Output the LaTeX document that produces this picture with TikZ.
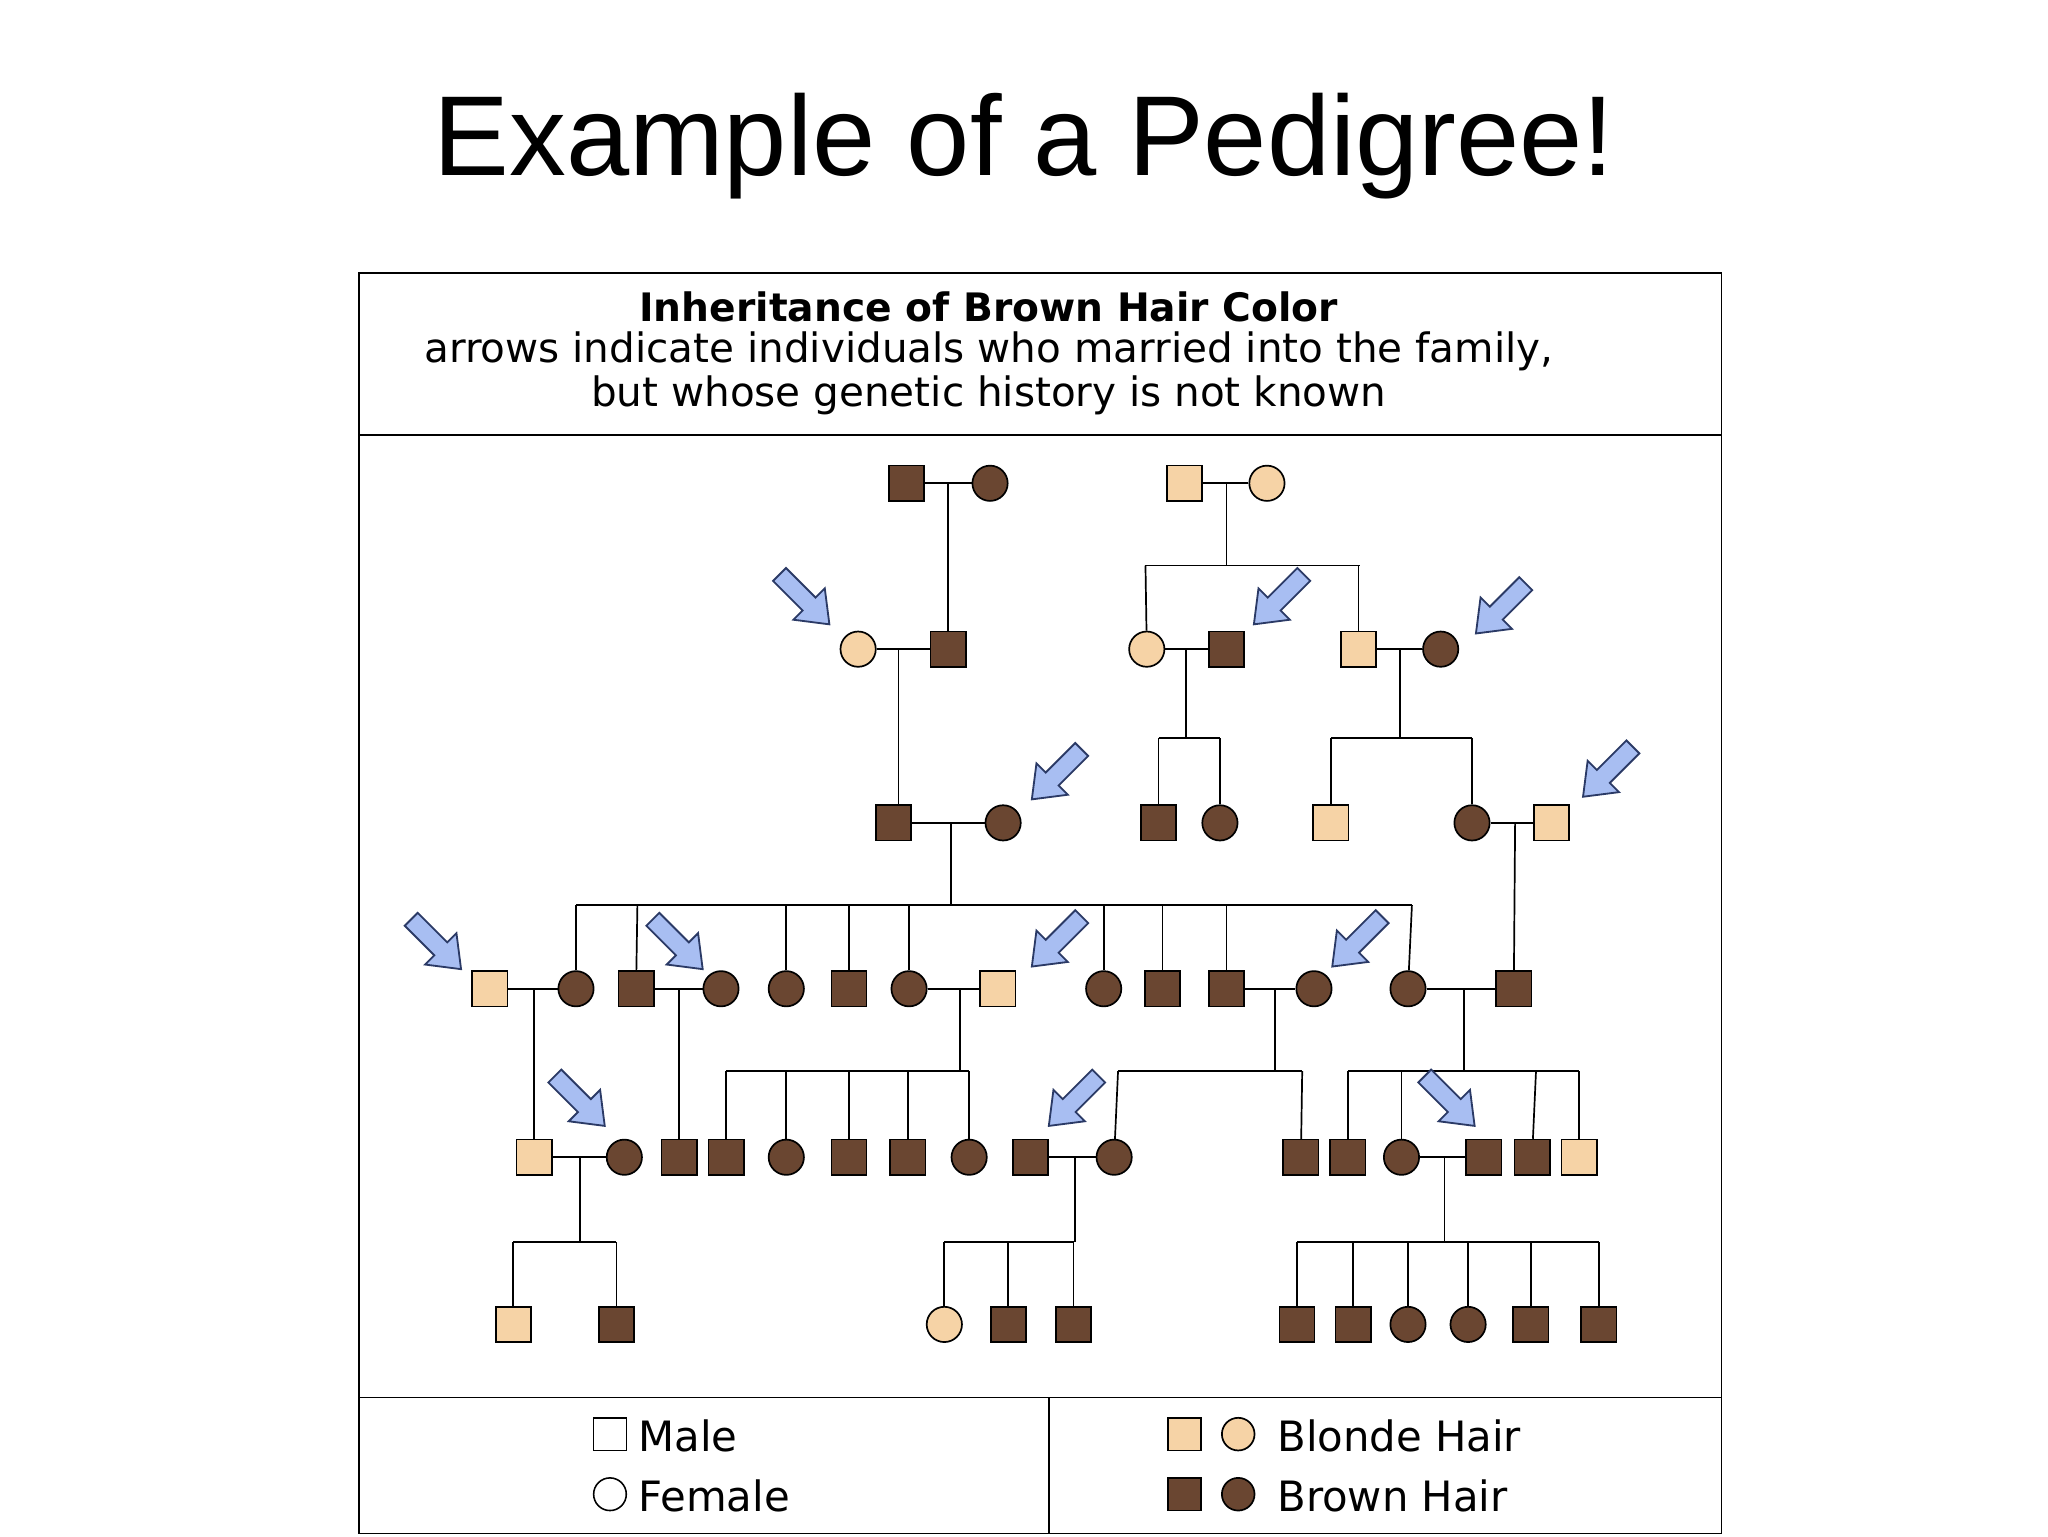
\documentclass[tikz,border=0pt]{standalone}
\usepackage{fontspec}
\setmainfont{Liberation Sans}
\newfontfamily\boxfont{DejaVu Sans}
\begin{document}
\begin{tikzpicture}[x=1pt,y=1pt,line width=1.3pt,
  sym/.style={draw=black,line width=1.3pt,minimum size=27pt,inner sep=0pt},
  msq/.style={sym,rectangle},
  fci/.style={sym,circle},
  br/.style={fill=brn}, bl/.style={fill=bln},
  barrow/.pic={\draw[fill=arr,draw=arrd,line width=1.4pt,line join=miter]
     (0,0)--(-22,17)--(-22,7)--(-54,7)--(-54,-7)--(-22,-7)--(-22,-17)--cycle;}]
\definecolor{brn}{HTML}{6A4631}
\definecolor{bln}{HTML}{F6D3A6}
\definecolor{arr}{HTML}{A8BEF2}
\definecolor{arrd}{HTML}{2B3A66}
\useasboundingbox (0,0) rectangle (1568,-1176);
\node (title) at (784,-112) {\fontsize{87}{96}\selectfont Example of a Pedigree!};
\draw[line width=1.2pt] (275,-209) rectangle (1318,-1174);
\draw[line width=1.2pt] (275,-333) -- (1318,-333);
\draw[line width=1.2pt] (275,-1070) -- (1318,-1070);
\draw[line width=1.2pt] (803,-1070) -- (803,-1174);
\node (h1) at (757,-235) {\boxfont\fontsize{30}{34}\selectfont\bfseries Inheritance of Brown Hair Color};
\node (h2) at (757,-269) {\boxfont\fontsize{31}{34}\selectfont arrows indicate individuals who married into the family,};
\node (h3) at (757,-303) {\boxfont\fontsize{31}{34}\selectfont but whose genetic history is not known};
% Gen I
\node[msq,br] (a1) at (694,-370) {}; \node[fci,br] (a2) at (758,-370) {};
\node[msq,bl] (b1) at (907,-370) {}; \node[fci,bl] (b2) at (970,-370) {};
\draw (a1)--(a2); \draw (b1)--(b2);
% Gen II
\node[fci,bl] (c1) at (657,-497) {}; \node[msq,br] (c2) at (726,-497) {};
\node[fci,bl] (d1) at (878,-497) {}; \node[msq,br] (d2) at (939,-497) {};
\node[msq,bl] (e1) at (1040,-497) {}; \node[fci,br] (e2) at (1103,-497) {};
\draw (c1)--(c2); \draw (d1)--(d2); \draw (e1)--(e2);
\draw (726,-370) -- (c2);
\draw (939,-370) -- (939,-433); \draw (877,-433) -- (1041,-433);
\draw (877,-433) -- (d1); \draw (1040,-433) -- (e1);
% Gen III
\node[msq,br] (f1) at (684,-630) {}; \node[fci,br] (f2) at (768,-630) {};
\node[msq,br] (g1) at (887,-630) {}; \node[fci,br] (g2) at (934,-630) {};
\node[msq,bl] (h1s) at (1019,-630) {}; \node[fci,br] (i1) at (1127,-630) {};
\node[msq,bl] (i2) at (1188,-630) {};
\draw (f1)--(f2); \draw (i1)--(i2);
\draw (688,-497) -- (688,-616);
\draw (908,-497) -- (908,-565); \draw (887,-565) -- (934,-565);
\draw (g1) -- (887,-565); \draw (g2) -- (934,-565);
\draw (1072,-497) -- (1072,-565); \draw (1019,-565) -- (1127,-565);
\draw (h1s) -- (1019,-565); \draw (i1) -- (1127,-565);
% Gen IV
\node[msq,bl] (j1) at (375,-757) {}; \node[fci,br] (j2) at (441,-757) {};
\node[msq,br] (k1) at (487,-757) {}; \node[fci,br] (k2) at (552,-757) {};
\node[fci,br] (l1) at (602,-757) {}; \node[msq,br] (l2) at (650,-757) {};
\node[fci,br] (m1) at (696,-757) {}; \node[msq,bl] (m2) at (764,-757) {};
\node[fci,br] (n1) at (845,-757) {}; \node[msq,br] (n2) at (890,-757) {};
\node[msq,br] (o1) at (939,-757) {}; \node[fci,br] (o2) at (1006,-757) {};
\node[fci,br] (p1) at (1078,-757) {}; \node[msq,br] (p2) at (1159,-757) {};
\draw (j1)--(j2); \draw (k1)--(k2); \draw (m1)--(m2); \draw (o1)--(o2); \draw (p1)--(p2);
\draw (728,-630) -- (728,-693); \draw (441,-693) -- (1081,-693);
\foreach \n/\x in {j2/441,k1/488,l1/602,l2/650,m1/696,n1/845,n2/890,o1/939,p1/1081}
  \draw (\n) -- (\x,-693);
\draw (1160,-630) -- (p2);
% Gen V
\node[msq,bl] (q1) at (409,-886) {}; \node[fci,br] (q2) at (478,-886) {};
\node[msq,br] (r1) at (520,-886) {};
\node[msq,br] (s1) at (556,-886) {}; \node[fci,br] (s2) at (602,-886) {};
\node[msq,br] (s3) at (650,-886) {}; \node[msq,br] (s4) at (695,-886) {};
\node[fci,br] (s5) at (742,-886) {};
\node[msq,br] (t1) at (789,-886) {}; \node[fci,br] (t2) at (853,-886) {};
\node[msq,br] (u1) at (996,-886) {};
\node[msq,br] (v1) at (1032,-886) {}; \node[fci,br] (v2) at (1073,-886) {};
\node[msq,br] (w1) at (1136,-886) {}; \node[msq,br] (v3) at (1173,-886) {};
\node[msq,bl] (v4) at (1209,-886) {};
\draw (q1)--(q2); \draw (t1)--(t2); \draw (v2)--(w1);
\draw (409,-757) -- (q1); \draw (520,-757) -- (r1);
\draw (735,-757) -- (735,-820); \draw (556,-820) -- (742,-820);
\foreach \n/\x in {s1/556,s2/602,s3/650,s4/695,s5/742} \draw (\n) -- (\x,-820);
\draw (976,-757) -- (976,-820); \draw (856,-820) -- (997,-820);
\draw (t2) -- (856,-820); \draw (u1) -- (997,-820);
\draw (1121,-757) -- (1121,-820); \draw (1032,-820) -- (1209,-820);
\foreach \n/\x in {v1/1032,v2/1073,v3/1176,v4/1209} \draw (\n) -- (\x,-820);
% Gen VI
\node[msq,bl] (x1) at (393,-1014) {}; \node[msq,br] (x2) at (472,-1014) {};
\node[fci,bl] (y1) at (723,-1014) {}; \node[msq,br] (y2) at (772,-1014) {};
\node[msq,br] (y3) at (822,-1014) {};
\node[msq,br] (z1) at (993,-1014) {}; \node[msq,br] (z2) at (1036,-1014) {};
\node[fci,br] (z3) at (1078,-1014) {}; \node[fci,br] (z4) at (1124,-1014) {};
\node[msq,br] (z5) at (1172,-1014) {}; \node[msq,br] (z6) at (1224,-1014) {};
\draw (444,-886) -- (444,-951); \draw (393,-951) -- (472,-951);
\draw (x1) -- (393,-951); \draw (x2) -- (472,-951);
\draw (823,-886) -- (823,-951); \draw (723,-951) -- (822,-951);
\foreach \n/\x in {y1/723,y2/772,y3/822} \draw (\n) -- (\x,-951);
\draw (1106,-886) -- (1106,-951); \draw (993,-951) -- (1224,-951);
\foreach \n/\x in {z1/993,z2/1036,z3/1078,z4/1124,z5/1172,z6/1224} \draw (\n) -- (\x,-951);
% arrows
\pic[rotate=-45] at (635,-478) {barrow};
\pic[rotate=-135] at (960,-478) {barrow};
\pic[rotate=-135] at (1130,-485) {barrow};
\pic[rotate=-135] at (790,-612) {barrow};
\pic[rotate=-135] at (1212,-610) {barrow};
\pic[rotate=-45] at (353,-742) {barrow};
\pic[rotate=-45] at (538,-742) {barrow};
\pic[rotate=-135] at (790,-740) {barrow};
\pic[rotate=-135] at (1020,-740) {barrow};
\pic[rotate=-45] at (463,-862) {barrow};
\pic[rotate=-135] at (803,-862) {barrow};
\pic[rotate=-45] at (1129,-862) {barrow};
% legend
\node[draw,line width=1.2pt,minimum size=25pt,inner sep=0pt] (lm) at (467,-1098) {};
\node[draw,circle,line width=1.2pt,minimum size=25pt,inner sep=0pt] (lf) at (467,-1144) {};
\node[anchor=west] (tm) at (485,-1099) {\boxfont\fontsize{32}{36}\selectfont Male};
\node[anchor=west] (tf) at (485,-1145) {\boxfont\fontsize{32}{36}\selectfont Female};
\node[msq,bl,minimum size=25pt] (lb1) at (907,-1098) {};
\node[fci,bl,minimum size=25pt] (lb2) at (948,-1098) {};
\node[msq,br,minimum size=25pt] (lr1) at (907,-1144) {};
\node[fci,br,minimum size=25pt] (lr2) at (948,-1144) {};
\node[anchor=west] (tb) at (974,-1099) {\boxfont\fontsize{32}{36}\selectfont Blonde Hair};
\node[anchor=west] (tr) at (974,-1145) {\boxfont\fontsize{32}{36}\selectfont Brown Hair};
\end{tikzpicture}
\end{document}
